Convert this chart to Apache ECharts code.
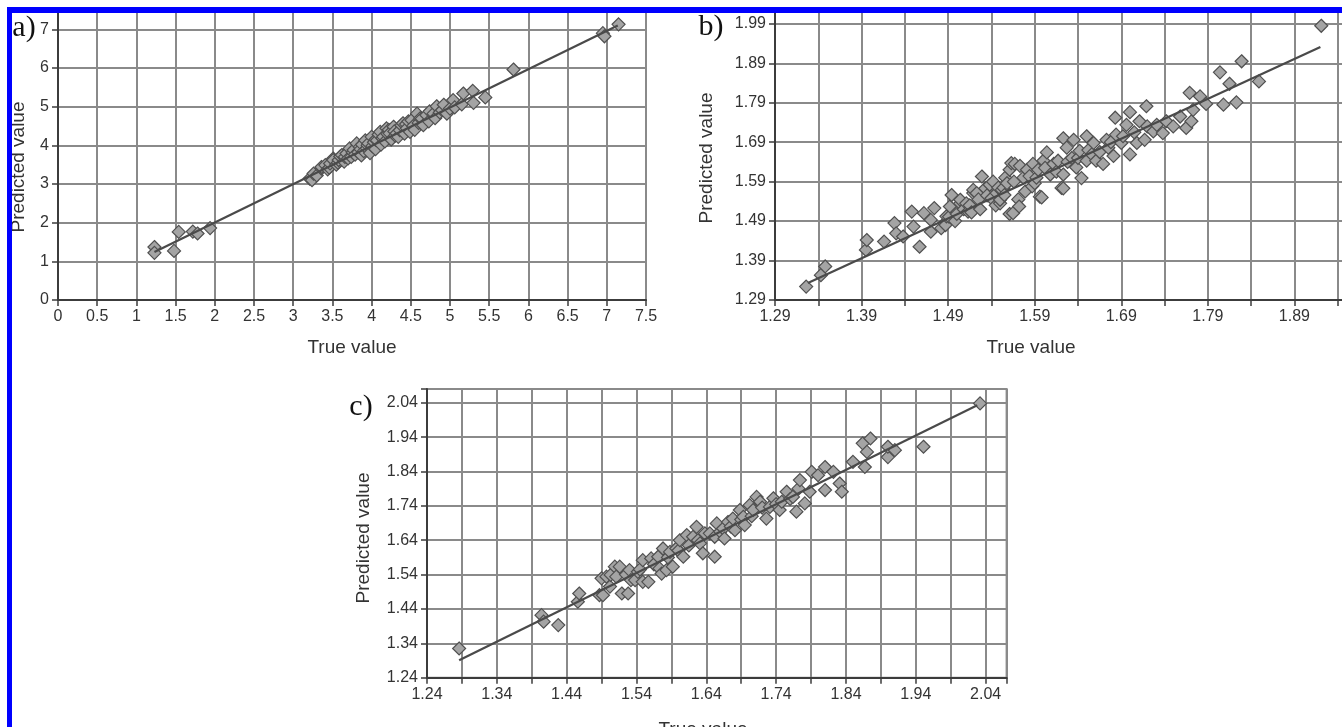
<!DOCTYPE html>
<html>
<head>
<meta charset="utf-8">
<script src="https://cdn.jsdelivr.net/npm/echarts@6/dist/echarts.min.js"></script>
<style>
html, body { margin: 0; padding: 0; background: #fff; }
#chart { width: 1342px; height: 727px; }
</style>
</head>
<body>
<div id="chart"></div>
<script>
// ---- panel a) : [true value, predicted value]
const pointsA = [
  [1.23,1.37],[1.23,1.22],[1.48,1.27],[1.54,1.76],[1.72,1.77],[1.78,1.72],[1.94,1.86],
  [3.21,3.14],[3.24,3.10],[3.26,3.27],[3.30,3.22],[3.36,3.40],[3.36,3.44],[3.41,3.49],[3.44,3.38],[3.46,3.42],[3.47,3.53],
  [3.51,3.66],[3.51,3.62],[3.55,3.50],[3.57,3.55],[3.58,3.62],[3.60,3.71],[3.62,3.75],[3.65,3.58],[3.66,3.70],[3.68,3.79],
  [3.70,3.66],[3.72,3.92],[3.74,3.70],[3.76,3.82],[3.77,3.88],[3.79,3.76],[3.81,4.05],[3.83,3.82],[3.85,3.96],[3.86,3.90],
  [3.87,3.74],[3.88,4.02],[3.90,3.85],[3.92,4.13],[3.94,3.92],[3.95,4.00],[3.96,4.05],[3.98,3.80],[4.00,4.22],[4.01,3.98],
  [4.03,4.08],[4.05,3.90],[4.05,4.15],[4.07,4.13],[4.09,4.28],[4.11,4.35],[4.12,4.02],[4.14,4.18],[4.15,4.22],[4.17,4.10],
  [4.19,4.44],[4.20,4.30],[4.22,4.40],[4.23,4.31],[4.25,4.15],[4.28,4.48],[4.29,4.36],[4.30,4.25],[4.32,4.31],[4.34,4.22],
  [4.36,4.39],[4.38,4.52],[4.40,4.57],[4.42,4.30],[4.44,4.55],[4.45,4.44],[4.47,4.62],[4.49,4.35],[4.51,4.65],[4.53,4.50],
  [4.55,4.40],[4.58,4.82],[4.60,4.58],[4.62,4.70],[4.64,4.69],[4.66,4.52],[4.70,4.78],[4.73,4.62],[4.74,4.88],[4.79,4.82],
  [4.81,4.70],[4.83,5.01],[4.87,4.85],[4.90,4.91],[4.92,5.05],[4.96,4.82],[5.00,4.95],[5.04,5.17],[5.06,4.98],[5.15,5.06],
  [5.17,5.34],[5.29,5.41],[5.30,5.10],[5.45,5.24],[5.81,5.96],[6.95,6.90],[6.97,6.82],[7.15,7.13]
];
const fitA = [[1.23,1.24],[7.14,7.10]];

// ---- panel b)
const pointsB = [
  [1.326,1.324],[1.343,1.353],[1.348,1.375],[1.395,1.417],[1.396,1.442],[1.416,1.438],[1.428,1.485],[1.430,1.459],
  [1.438,1.451],[1.448,1.514],[1.450,1.476],[1.457,1.425],[1.462,1.510],[1.470,1.493],[1.470,1.463],[1.474,1.523],
  [1.482,1.472],[1.486,1.485],[1.487,1.480],[1.488,1.502],[1.491,1.501],[1.492,1.527],[1.494,1.556],[1.498,1.490],
  [1.500,1.508],[1.504,1.535],[1.504,1.544],[1.508,1.520],[1.511,1.535],[1.513,1.514],[1.515,1.530],[1.517,1.512],
  [1.519,1.561],[1.519,1.569],[1.523,1.561],[1.525,1.545],[1.527,1.520],[1.529,1.603],[1.533,1.573],[1.535,1.555],
  [1.538,1.582],[1.540,1.548],[1.542,1.590],[1.545,1.530],[1.546,1.561],[1.548,1.575],[1.550,1.535],[1.550,1.544],
  [1.552,1.569],[1.554,1.574],[1.555,1.556],[1.556,1.600],[1.558,1.586],[1.561,1.508],[1.561,1.620],[1.563,1.637],
  [1.565,1.510],[1.566,1.590],[1.567,1.635],[1.571,1.545],[1.572,1.527],[1.573,1.630],[1.577,1.600],[1.579,1.565],
  [1.581,1.620],[1.584,1.604],[1.587,1.578],[1.588,1.635],[1.590,1.586],[1.592,1.600],[1.594,1.620],[1.596,1.552],
  [1.598,1.550],[1.600,1.643],[1.602,1.625],[1.604,1.664],[1.608,1.608],[1.612,1.635],[1.615,1.615],[1.617,1.643],
  [1.621,1.574],[1.623,1.573],[1.623,1.608],[1.623,1.700],[1.627,1.676],[1.628,1.640],[1.633,1.650],[1.635,1.696],
  [1.638,1.626],[1.640,1.650],[1.642,1.668],[1.644,1.599],[1.650,1.705],[1.650,1.643],[1.652,1.670],[1.656,1.659],
  [1.658,1.688],[1.661,1.643],[1.665,1.665],[1.669,1.635],[1.673,1.696],[1.675,1.676],[1.678,1.690],[1.681,1.655],
  [1.683,1.752],[1.684,1.709],[1.690,1.688],[1.692,1.705],[1.696,1.734],[1.700,1.766],[1.700,1.659],[1.705,1.715],
  [1.708,1.688],[1.711,1.743],[1.717,1.696],[1.719,1.781],[1.720,1.730],[1.727,1.717],[1.731,1.734],[1.738,1.713],
  [1.742,1.743],[1.750,1.730],[1.758,1.755],[1.765,1.726],[1.769,1.815],[1.771,1.743],[1.773,1.772],[1.781,1.806],
  [1.788,1.787],[1.804,1.867],[1.808,1.785],[1.815,1.838],[1.823,1.791],[1.829,1.895],[1.849,1.844],[1.921,1.985]
];
const fitB = [[1.328,1.333],[1.920,1.931]];

// ---- panel c)
const pointsC = [
  [1.286,1.325],[1.404,1.422],[1.407,1.403],[1.428,1.393],[1.456,1.461],[1.458,1.485],[1.487,1.480],[1.490,1.529],
  [1.492,1.480],[1.497,1.534],[1.502,1.505],[1.503,1.539],[1.509,1.563],[1.511,1.534],[1.516,1.563],[1.519,1.485],
  [1.525,1.540],[1.528,1.485],[1.530,1.553],[1.532,1.524],[1.538,1.524],[1.542,1.548],[1.545,1.555],[1.549,1.519],
  [1.549,1.582],[1.557,1.519],[1.561,1.587],[1.565,1.570],[1.571,1.592],[1.573,1.558],[1.576,1.543],[1.578,1.616],
  [1.583,1.553],[1.585,1.590],[1.588,1.606],[1.592,1.563],[1.597,1.616],[1.600,1.610],[1.602,1.640],[1.607,1.592],
  [1.612,1.655],[1.615,1.625],[1.621,1.650],[1.626,1.679],[1.628,1.640],[1.631,1.631],[1.635,1.602],[1.638,1.660],
  [1.645,1.660],[1.652,1.650],[1.652,1.592],[1.655,1.689],[1.660,1.665],[1.664,1.674],[1.666,1.645],[1.671,1.693],
  [1.675,1.680],[1.678,1.703],[1.681,1.669],[1.688,1.728],[1.690,1.700],[1.693,1.708],[1.695,1.684],[1.702,1.742],
  [1.705,1.710],[1.707,1.728],[1.712,1.766],[1.717,1.752],[1.720,1.735],[1.726,1.703],[1.731,1.737],[1.736,1.762],
  [1.740,1.745],[1.745,1.728],[1.748,1.752],[1.755,1.781],[1.760,1.760],[1.764,1.766],[1.769,1.723],[1.772,1.790],
  [1.774,1.815],[1.781,1.747],[1.788,1.781],[1.791,1.839],[1.800,1.829],[1.810,1.853],[1.810,1.786],[1.822,1.839],
  [1.831,1.805],[1.834,1.781],[1.850,1.868],[1.864,1.922],[1.867,1.853],[1.870,1.897],[1.875,1.936],[1.900,1.882],
  [1.900,1.912],[1.910,1.902],[1.951,1.912],[2.032,2.038]
];
const fitC = [[1.286,1.291],[2.028,2.033]];

// ---- axis ranges: [min, max, tick step, label step]
const xAxisA = [0, 7.5, 0.5, 0.5];
const yAxisA = [0, 7.5, 1, 1];
const xAxisB = [1.29, 1.99, 0.05, 0.1];
const yAxisB = [1.29, 2.025, 0.1, 0.1];
const xAxisC = [1.24, 2.07, 0.05, 0.1];
const yAxisC = [1.24, 2.08, 0.1, 0.1];

const panelLetters = ['a)', 'b)', 'c)'];
const xTitle = 'True value';
const yTitle = 'Predicted value';

const SANS = '"Liberation Sans", Arial, sans-serif';
const SERIF = '"Liberation Serif", "Times New Roman", serif';
const GRID_COLOR = '#8a8a8a';
const AXIS_COLOR = '#3c3c3c';
const LABEL_COLOR = '#333';

// Show a label only on every labelStep from min (ticks may be finer).
function labelFormatter(range, decimals) {
  const [min, max, step, labelStep] = range;
  return function (v) {
    const k = (v - min) / labelStep;
    if (Math.abs(k - Math.round(k)) > 1e-6) return '';
    return decimals > 0 ? v.toFixed(decimals) : String(+v.toFixed(2));
  };
}

function valueAxis(range, gridIndex, decimals) {
  const [min, max, step] = range;
  return {
    type: 'value',
    gridIndex: gridIndex,
    min: min,
    max: max,
    interval: step,
    axisLine: { show: true, onZero: false, lineStyle: { color: AXIS_COLOR, width: 2 } },
    axisTick: { show: true, inside: false, length: 6, lineStyle: { color: AXIS_COLOR, width: 1.5 } },
    axisLabel: {
      show: true,
      margin: 9,
      color: LABEL_COLOR,
      fontFamily: SANS,
      fontSize: 16,
      showMinLabel: true,
      showMaxLabel: true,
      formatter: labelFormatter(range, decimals)
    },
    splitLine: { show: true, lineStyle: { color: GRID_COLOR, width: 2 } }
  };
}

function scatter(points, idx) {
  return {
    type: 'scatter',
    xAxisIndex: idx,
    yAxisIndex: idx,
    data: points,
    symbol: 'diamond',
    symbolSize: 13,
    itemStyle: { color: '#a4a4a4', borderColor: '#505050', borderWidth: 1.2, opacity: 1 },
    z: 3,
    silent: true
  };
}

function fitLine(points, idx) {
  return {
    type: 'line',
    xAxisIndex: idx,
    yAxisIndex: idx,
    data: points,
    showSymbol: false,
    symbol: 'none',
    lineStyle: { color: '#4a4a4a', width: 2.2 },
    z: 4,
    silent: true
  };
}

function text(str, x, y, font, rotate) {
  return {
    type: 'text',
    x: x, y: y,
    rotation: rotate ? Math.PI / 2 : 0,
    z: 50,
    style: { text: str, font: font, fill: LABEL_COLOR, align: 'center', verticalAlign: 'middle' }
  };
}

function letter(str, x, y) {
  return {
    type: 'text', x: x, y: y, z: 50,
    style: { text: str, font: '30px ' + SERIF, fill: '#111', align: 'center', verticalAlign: 'middle' }
  };
}

const gridBase = { show: true, borderColor: GRID_COLOR, borderWidth: 2, containLabel: false, outerBoundsMode: 'none' };

const chart = echarts.init(document.getElementById('chart'), null, { renderer: 'canvas' });

chart.setOption({
  animation: false,
  backgroundColor: '#ffffff',
  grid: [
    Object.assign({ left: 58, right: 696, top: 10, bottom: 427 }, gridBase),
    Object.assign({ left: 775, right: -39, top: 10, bottom: 427 }, gridBase),
    Object.assign({ left: 427, right: 335.4, top: 389, bottom: 49.3 }, gridBase)
  ],
  xAxis: [
    valueAxis(xAxisA, 0, 0),
    valueAxis(xAxisB, 1, 2),
    valueAxis(xAxisC, 2, 2)
  ],
  yAxis: [
    valueAxis(yAxisA, 0, 0),
    valueAxis(yAxisB, 1, 2),
    valueAxis(yAxisC, 2, 2)
  ],
  series: [
    scatter(pointsA, 0), fitLine(fitA, 0),
    scatter(pointsB, 1), fitLine(fitB, 1),
    scatter(pointsC, 2), fitLine(fitC, 2)
  ],
  graphic: [
    // axis titles
    text(xTitle, 352, 348, '19px ' + SANS, false),
    text(yTitle, 19, 167, '19px ' + SANS, true),
    text(xTitle, 1031, 348, '19px ' + SANS, false),
    text(yTitle, 707, 158, '19px ' + SANS, true),
    text(xTitle, 703, 730, '19px ' + SANS, false),
    text(yTitle, 364, 538, '19px ' + SANS, true),
    // panel letters
    letter(panelLetters[0], 24, 28),
    letter(panelLetters[1], 711, 27),
    letter(panelLetters[2], 361, 407),
    // blue frame along the top and left edges
    { type: 'rect', z: 100, shape: { x: 7, y: 7, width: 1335, height: 6 }, style: { fill: '#0000ff' } },
    { type: 'rect', z: 100, shape: { x: 7, y: 7, width: 5, height: 720 }, style: { fill: '#0000ff' } }
  ]
});
</script>
</body>
</html>
